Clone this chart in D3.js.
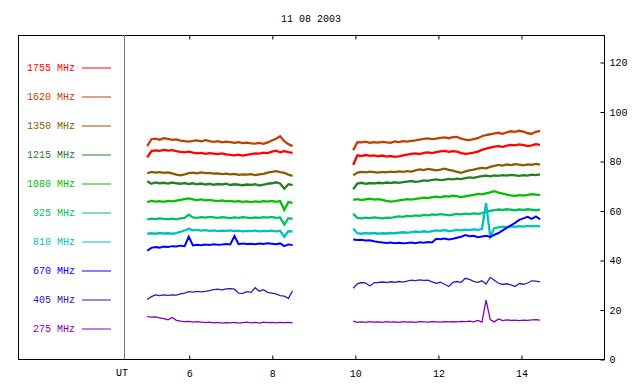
<!DOCTYPE html>
<html>
<head>
<meta charset="utf-8">
<script src="https://cdn.jsdelivr.net/npm/d3@7"></script>
<style>
  body { margin: 0; background: #fff; }
  svg { display: block; font-family: "Liberation Mono", "DejaVu Sans Mono", monospace; font-size: 10px; }
</style>
</head>
<body>
<div id="chart"></div>
<script>
const title = "11 08 2003";
const freqs  = ["1755", "1620", "1350", "1215", "1080", "925", "810", "670", "405", "275"];
const colors = ["#ff0000", "#c04000", "#8c5a00", "#228022", "#00c000", "#00c060", "#00c0c0", "#0000ff", "#2020c0", "#8000c0"];
const hourTicks = [6, 8, 10, 12, 14];
const fluxTicks = [0, 20, 40, 60, 80, 100, 120];

// sampling grid of the two observing runs (UT hours)
const seg1Start = 5.0, seg2Start = 9.96, stepH = 0.1;

// flux values, first run (36 samples) and second run (46 samples)
const run1 = {
  "1755": [81.5,84.0,84.3,84.1,84.5,84.2,84.4,84.0,83.7,83.5,83.8,83.4,83.1,83.3,82.9,83.2,83.0,82.8,83.1,82.7,82.5,82.3,82.6,82.2,82.5,82.8,83.1,83.0,83.4,83.2,83.8,84.2,83.5,84.0,83.6,83.3],
  "1620": [86.0,88.8,89.0,88.6,89.2,88.9,88.5,88.7,88.2,88.0,87.8,88.1,88.3,87.9,88.4,88.0,87.7,88.0,87.5,87.8,87.6,87.3,87.6,87.2,87.4,87.1,87.0,87.3,86.9,87.5,88.3,89.0,90.0,88.0,86.8,86.0],
  "1350": [75.0,75.6,75.3,75.5,75.2,75.4,75.0,74.5,74.2,74.6,75.1,75.3,75.0,75.4,75.1,75.2,74.9,75.0,74.7,74.9,74.6,74.8,74.4,74.6,74.5,74.7,74.3,74.6,74.8,75.3,75.6,75.9,75.5,75.2,74.5,74.0],
  "1215": [71.8,70.8,71.3,71.0,71.2,70.9,71.3,71.0,70.8,71.1,70.7,71.0,70.6,70.9,70.5,70.8,70.4,70.7,70.5,70.8,70.3,70.6,70.4,70.2,70.5,70.3,70.6,70.1,70.4,70.8,71.0,71.4,70.9,68.8,70.6,70.2],
  "1080": [63.4,63.9,63.6,63.8,63.5,63.9,63.7,64.0,64.3,64.6,64.9,64.5,64.2,64.5,64.1,64.3,64.0,63.8,64.1,63.7,63.9,63.6,63.8,63.5,63.7,63.4,63.7,63.5,63.8,63.6,63.9,63.5,63.8,60.2,63.4,63.1],
  "925":  [56.4,56.7,56.5,56.8,56.6,56.5,56.7,56.4,56.8,57.0,58.3,57.2,57.0,57.3,57.1,57.4,57.2,57.0,57.3,57.1,56.9,57.2,57.0,57.3,57.1,56.9,57.2,57.0,57.3,57.1,57.4,57.0,57.2,54.3,56.9,56.6],
  "810":  [50.6,50.8,50.6,50.9,50.7,50.8,50.6,50.9,51.4,51.9,52.6,52.0,52.2,51.9,52.1,51.8,52.0,51.7,51.9,51.8,52.0,51.7,51.9,51.6,51.8,51.7,51.9,51.6,51.8,51.7,51.9,51.6,51.8,49.4,51.7,51.5],
  "670":  [43.8,44.9,45.2,45.0,45.4,45.3,45.6,45.5,45.8,45.6,49.4,45.9,46.2,46.0,46.3,46.1,46.4,46.2,46.3,46.5,46.3,49.7,46.4,46.7,46.5,46.6,46.4,46.7,46.5,46.8,46.6,46.4,46.7,45.6,46.3,46.1],
  "405":  [24.0,25.2,25.9,25.6,25.9,25.7,25.9,25.8,26.3,26.6,27.2,27.0,27.3,27.1,27.3,27.6,28.0,28.2,27.9,28.3,28.4,28.2,26.6,26.5,27.2,26.9,28.8,27.4,28.0,26.9,26.6,26.3,25.6,25.4,24.5,27.6],
  "275":  [17.1,16.9,17.0,16.6,16.3,15.8,16.8,15.6,15.3,15.1,15.2,14.9,15.1,14.9,14.7,14.9,14.6,14.8,14.5,14.7,14.6,14.8,14.5,14.7,14.9,14.6,14.8,14.5,14.9,14.7,14.8,14.6,14.8,14.7,14.8,14.6]
};
const run2 = {
  "1755": [78.4,82.3,82.0,82.4,82.1,82.3,81.9,82.2,81.8,82.0,81.7,81.9,82.3,82.6,82.9,83.1,82.8,83.3,83.5,83.2,83.6,83.9,84.1,83.7,84.0,83.8,83.2,82.9,83.1,83.4,83.8,84.5,85.0,85.4,85.8,86.0,85.7,86.2,86.5,86.3,86.7,86.4,86.0,86.3,86.8,86.5],
  "1620": [84.4,87.6,87.5,87.8,87.3,87.6,87.4,87.7,87.5,87.3,87.9,87.6,88.0,87.8,88.1,88.3,88.6,88.9,89.1,88.8,89.0,89.3,89.5,89.2,89.6,89.7,89.0,88.6,88.4,88.8,89.2,90.0,90.5,90.8,91.2,91.4,91.0,91.6,92.0,91.8,92.2,91.9,91.2,91.0,91.8,92.2],
  "1350": [74.2,75.3,75.6,75.4,75.7,75.5,75.3,75.6,75.4,75.7,75.5,75.8,75.6,75.9,75.7,76.2,76.6,76.3,76.8,76.5,76.2,76.5,76.9,76.4,76.1,75.6,75.2,75.8,76.2,76.5,76.9,77.2,77.0,77.6,78.0,78.4,78.1,78.6,78.3,78.7,78.5,78.2,78.6,78.4,78.8,78.5],
  "1215": [68.6,70.9,71.2,70.8,71.1,70.9,71.2,71.0,71.3,71.1,71.4,71.2,71.5,71.7,71.9,71.6,71.8,72.2,72.0,72.4,72.6,72.3,72.5,72.8,72.6,72.9,72.7,73.1,73.4,73.2,73.6,73.9,74.1,73.8,74.2,74.0,74.3,74.1,74.4,74.2,74.0,74.3,74.1,74.5,74.3,74.6],
  "1080": [64.3,64.6,64.2,64.5,64.8,64.4,64.6,64.3,63.9,63.6,63.8,64.1,64.3,64.6,64.4,64.7,64.9,65.2,65.0,65.4,65.6,65.3,65.8,65.6,66.0,65.8,65.4,65.7,66.0,66.3,66.7,66.5,66.9,67.3,67.8,67.2,66.8,66.4,66.1,65.9,66.2,66.0,66.3,66.6,66.4,66.2],
  "925":  [58.6,57.0,56.8,57.1,56.9,57.2,57.0,56.8,57.1,57.0,57.3,57.6,57.4,57.8,57.6,58.0,57.8,58.2,58.0,58.4,58.2,58.5,58.3,58.0,58.3,58.6,58.4,58.7,58.5,58.8,58.6,58.9,59.4,59.8,60.1,60.4,60.2,60.5,60.3,60.1,60.4,60.2,60.5,60.3,60.1,60.3],
  "810":  [52.7,50.8,50.6,50.9,50.7,50.9,50.6,50.8,50.7,50.9,50.8,51.0,51.2,51.0,51.3,51.5,51.3,51.6,51.4,51.7,52.0,51.8,52.1,51.7,51.9,52.2,52.0,52.3,52.1,52.4,52.2,52.5,63.0,49.4,52.9,53.2,53.5,53.3,53.6,53.4,53.7,53.5,53.8,53.6,53.8,53.6],
  "670":  [48.3,48.1,48.2,47.9,48.0,47.6,47.3,47.1,46.9,47.1,46.8,47.0,46.8,46.9,47.1,46.8,47.2,47.0,47.3,47.1,48.6,48.4,48.7,48.3,48.6,49.0,49.4,50.1,49.6,49.8,49.2,49.5,49.8,49.3,50.2,50.9,52.0,53.0,54.0,55.0,56.2,56.8,57.4,56.6,57.6,56.4],
  "405":  [28.6,30.4,30.9,30.7,29.5,30.8,30.9,31.1,30.9,31.2,31.0,31.3,31.1,31.5,31.9,31.7,32.0,31.8,31.9,31.2,30.6,31.0,30.2,29.3,31.0,31.3,31.0,32.6,32.2,31.4,31.0,31.6,30.3,33.0,31.8,30.6,30.1,30.4,29.9,29.3,30.5,30.2,30.7,31.6,31.5,31.2],
  "275":  [15.3,14.8,15.0,14.8,15.1,14.9,15.0,14.8,15.1,14.9,15.0,14.8,15.1,14.9,15.0,14.8,15.1,15.0,14.9,15.1,15.0,14.9,15.1,15.0,15.1,15.0,15.2,15.1,15.3,15.0,15.6,14.9,23.8,15.9,15.0,16.2,15.5,15.8,15.6,15.7,15.5,15.7,15.6,15.8,15.9,15.7]
};

const W = 640, H = 384;
const frame = {left: 18, top: 35, right: 604, bottom: 359, ut: 124};

const svg = d3.select("#chart").append("svg")
  .attr("width", W).attr("height", H);

const x = d3.scaleLinear().domain([4.44, 16]).range([frame.ut, frame.right]);
const y = d3.scaleLinear().domain([0, 130.9]).range([frame.bottom, frame.top]);

svg.append("text")
  .attr("x", (frame.left + frame.right) / 2)
  .attr("y", 18)
  .attr("dy", "0.35em")
  .attr("text-anchor", "middle")
  .text(title);

// frame and UT divider
svg.append("rect")
  .attr("x", frame.left + 0.5).attr("y", frame.top + 0.5)
  .attr("width", frame.right - frame.left).attr("height", frame.bottom - frame.top)
  .attr("fill", "none").attr("stroke", "#000");
svg.append("line")
  .attr("x1", frame.ut + 0.5).attr("x2", frame.ut + 0.5)
  .attr("y1", frame.top).attr("y2", frame.bottom)
  .attr("stroke", "#777");

const bottomAxis = svg.append("g")
  .attr("transform", `translate(0.5 ${frame.bottom + 0.5})`)
  .call(d3.axisBottom(x).tickValues(hourTicks).tickSize(-4).tickPadding(10));
const topAxis = svg.append("g")
  .attr("transform", `translate(0.5 ${frame.top + 0.5})`)
  .call(d3.axisTop(x).tickValues(hourTicks).tickSize(-4).tickFormat(""));
const rightAxis = svg.append("g")
  .attr("transform", `translate(${frame.right + 0.5} 0.5)`)
  .call(d3.axisRight(y).tickValues(fluxTicks).tickSize(-4).tickPadding(5));
for (const a of [bottomAxis, topAxis, rightAxis]) {
  a.select(".domain").remove();
  a.attr("font-family", null).attr("font-size", null);
  a.selectAll("text").attr("fill", "#000");
}

svg.append("text")
  .attr("x", frame.ut - 2)
  .attr("y", 376)
  .attr("text-anchor", "middle")
  .text("UT");

// legend
const legend = svg.append("g");
freqs.forEach((f, i) => {
  const ly = 67.5 + i * 29;
  legend.append("text")
    .attr("x", 75).attr("y", ly).attr("dy", "0.35em")
    .attr("text-anchor", "end")
    .attr("fill", colors[i])
    .text(f + " MHz");
  legend.append("line")
    .attr("x1", 82).attr("x2", 111)
    .attr("y1", ly + 0.5).attr("y2", ly + 0.5)
    .attr("stroke", colors[i]);
});

// data
const line = d3.line()
  .x(d => x(d[0]))
  .y(d => y(d[1]));

freqs.forEach((f, i) => {
  const width = i < 7 ? 2.3 : (i === 7 ? 2 : 1.3);
  [[run1[f], seg1Start], [run2[f], seg2Start]].forEach(([vals, t0]) => {
    const pts = vals.map((v, k) => [t0 + k * stepH, v]);
    svg.append("path")
      .datum(pts)
      .attr("d", line)
      .attr("fill", "none")
      .attr("stroke", colors[i])
      .attr("stroke-width", width);
  });
});
</script>
</body>
</html>
